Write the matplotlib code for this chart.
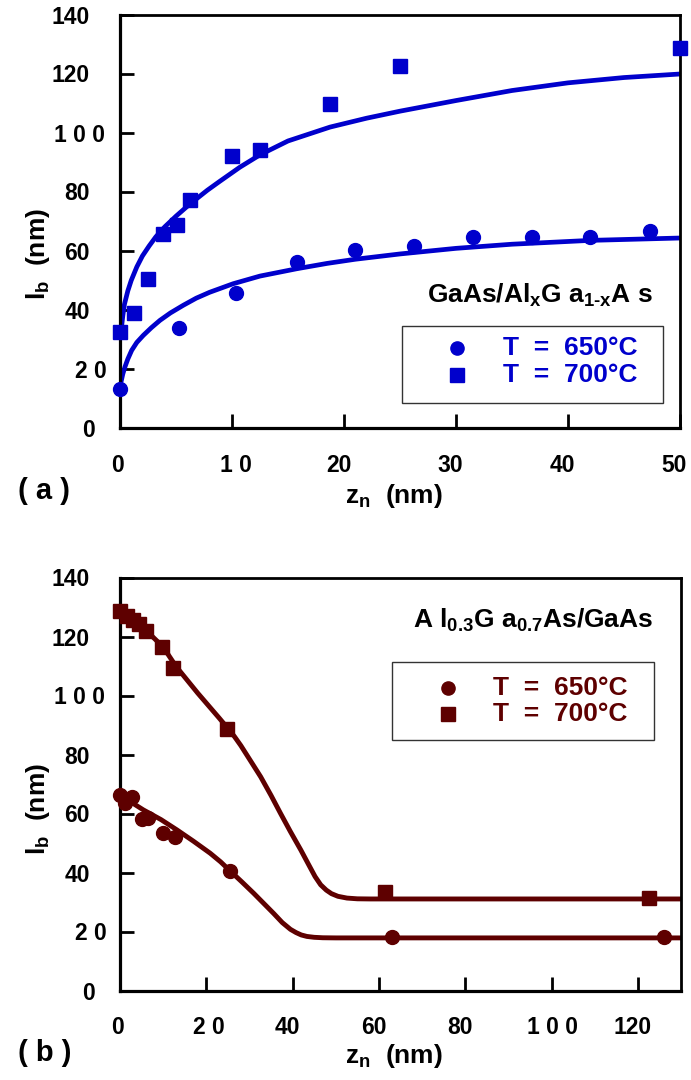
import matplotlib
matplotlib.use("Agg")
import matplotlib.pyplot as plt
from matplotlib.patches import Rectangle

plt.rcParams["font.family"] = ["Liberation Sans", "DejaVu Sans"]
plt.rcParams["font.weight"] = "bold"
plt.rcParams["mathtext.default"] = "regular"

BLUE = "#0000CC"
MAROON = "#5E0000"

# ---------------- (a) GaAs/AlxGa1-xAs ----------------
a_z_650 = [0, 5.3, 10.4, 15.8, 21.0, 26.25, 31.5, 36.8, 42.0, 47.3]
a_l_650 = [13.1, 33.8, 45.7, 56.3, 60.3, 61.7, 64.8, 64.7, 64.7, 66.8]
a_z_700 = [0, 1.25, 2.5, 3.8, 5.06, 6.25, 10.0, 12.5, 18.75, 25.0, 50.0]
a_l_700 = [32.5, 39.1, 50.4, 65.9, 68.7, 77.2, 92.2, 94.2, 109.8, 122.7, 128.8]

# fitted curves
a_fit_z_650 = [0.05, 0.25, 0.45, 0.7, 1.04, 1.5, 2.08, 2.8, 3.57, 4.5, 5.65, 6.8, 8.0,
               10.1, 12.5, 15.8, 18.5, 21.0, 25.0, 30.0, 35.0, 42.0, 50.0]
a_fit_l_650 = [14.9, 18.3, 20.8, 23.4, 26.3, 29.0, 31.4, 34.0, 36.5, 39.0, 41.6, 44.0, 46.0,
               48.9, 51.5, 54.0, 55.8, 57.2, 59.0, 60.9, 62.3, 63.6, 64.4]
a_fit_z_700 = [0.1, 0.25, 0.4, 0.7, 1.0, 1.5, 2.0, 2.6, 3.2, 4.0, 5.0, 5.9, 6.8, 7.8, 8.9, 10.7,
               12.5, 15.0, 18.75, 22.0, 25.0, 30.0, 35.0, 40.0, 45.0, 50.0]
a_fit_l_700 = [33.0, 38.0, 42.0, 46.5, 50.0, 54.6, 58.3, 61.7, 64.8, 68.2, 71.8, 74.8, 77.6, 80.6, 83.6, 88.4,
               92.6, 97.3, 102.0, 105.0, 107.4, 111.0, 114.4, 117.0, 118.8, 120.0]

# ---------------- (b) Al0.3Ga0.7As/GaAs ----------------
b_z_650 = [0, 1.16, 2.7, 5.0, 6.6, 10.0, 12.8, 25.4, 63.1, 126.0]
b_l_650 = [66.6, 63.8, 65.6, 58.2, 58.5, 53.4, 52.3, 40.8, 18.3, 18.3]
b_z_700 = [0, 1.6, 3.0, 4.4, 6.0, 9.8, 12.3, 24.8, 61.3, 122.6]
b_l_700 = [128.8, 127.1, 125.8, 124.4, 122.0, 116.6, 109.5, 88.8, 33.6, 31.5]

b_fit_z_650 = [0, 5.4, 9.5, 13.2, 17.0, 20.9, 23.3, 25.6, 28.3, 31.0, 33.3, 35.6, 37.6, 39.5,
               40.8, 42.0, 43.3, 45.0, 47.0, 50.0, 130.0]
b_fit_l_650 = [66.4, 61.4, 58.1, 54.6, 50.8, 46.7, 43.8, 40.6, 36.9, 33.1, 29.7, 26.3, 23.2, 20.9,
               19.8, 19.0, 18.5, 18.2, 18.05, 18.0, 18.0]
b_fit_z_700 = [0, 3.0, 6.0, 10.0, 13.0, 18.0, 23.0, 25.0, 26.5, 28.0, 30.0, 32.6, 35.0, 37.2, 39.5,
               41.9, 43.8, 45.2, 46.5, 47.8, 49.0, 50.5, 52.6, 55.0, 58.0, 130.0]
b_fit_l_700 = [129.5, 126.0, 122.3, 116.6, 110.0, 101.0, 92.5, 89.0, 86.3, 83.2, 78.6, 72.6, 66.3, 60.2, 54.0,
               47.8, 42.6, 38.8, 36.0, 34.2, 33.0, 32.1, 31.5, 31.25, 31.2, 31.2]

y_ticks = [0, 20, 40, 60, 80, 100, 120, 140]
y_tick_labels = ["0", "2 0", "40", "60", "80", "1 0 0", "120", "140"]
a_x_ticks = [0, 10, 20, 30, 40, 50]
a_x_tick_labels = ["0", "1 0", "20", "30", "40", "50"]
b_x_ticks = [0, 20, 40, 60, 80, 100, 120]
b_x_tick_labels = ["0", "2 0", "40", "60", "80", "1 0 0", "120"]

fig = plt.figure(figsize=(6.91, 10.8), dpi=100)
W, H = 691.0, 1080.0

ax1 = fig.add_axes([120 / W, 1 - 428 / H, 560 / W, 413 / H])
ax2 = fig.add_axes([120 / W, 1 - 991 / H, 561 / W, 413 / H])

TICK_FS = 16.5
LABEL_FS = 19

# right edge offsets (px) of y labels from the axis, x label centre shifts
y_label_dx = {"0": 25, "2 0": 13, "1 0 0": 15}
x_label_dx = {"0": -2.5, "1 0": 3.5, "2 0": 3.0, "1 0 0": 1.0}


def style_axes(ax, xlim, xticks, xlabels):
    ax.set_xlim(*xlim)
    ax.set_ylim(0, 140)
    for side in ["left", "bottom"]:
        ax.spines[side].set_linewidth(2.3)
    for side in ["top", "right"]:
        ax.spines[side].set_linewidth(2.0)
    ax.set_xticks(xticks)
    ax.set_yticks(y_ticks)
    ax.tick_params(direction="in", length=10, width=2.0, top=False, right=False,
                   labelbottom=False, labelleft=False)
    for v, lab in zip(y_ticks, y_tick_labels):
        ax.annotate(lab, xy=(0, v), xycoords=("axes fraction", "data"),
                    xytext=(-y_label_dx.get(lab, 30), -2), textcoords="offset pixels",
                    ha="right", va="center", fontsize=TICK_FS, fontweight="bold",
                    annotation_clip=False)
    for v, lab in zip(xticks, xlabels):
        ax.annotate(lab, xy=(v, 0), xycoords=("data", "axes fraction"),
                    xytext=(x_label_dx.get(lab, -5.5), -37), textcoords="offset pixels",
                    ha="center", va="center", fontsize=TICK_FS, fontweight="bold",
                    annotation_clip=False)


def legend_box(ax, color, box, mk_x, txt_x, rows, title, title_xy):
    x0, y0, x1, y1 = box
    ax.add_patch(Rectangle((x0, y0), x1 - x0, y1 - y0, transform=ax.transAxes,
                           fill=False, edgecolor="#333333", linewidth=1.0,
                           clip_on=False, zorder=4))
    ax.plot([mk_x], [rows[0]], "o", ms=9.5, color=color, transform=ax.transAxes,
            clip_on=False, zorder=5)
    ax.plot([mk_x], [rows[1]], "s", ms=10, color=color, transform=ax.transAxes,
            clip_on=False, zorder=5)
    ax.text(txt_x, rows[0], "T  =  650°C", color=color, fontsize=LABEL_FS,
            fontweight="bold", transform=ax.transAxes, ha="left", va="center")
    ax.text(txt_x, rows[1], "T  =  700°C", color=color, fontsize=LABEL_FS,
            fontweight="bold", transform=ax.transAxes, ha="left", va="center")
    ax.text(title_xy[0], title_xy[1], title, color="black", fontsize=LABEL_FS,
            fontweight="bold", transform=ax.transAxes, ha="right", va="center")


# ---- panel (a)
ax1.plot(a_fit_z_650, a_fit_l_650, color=BLUE, lw=3.4, solid_capstyle="butt",
         solid_joinstyle="round", zorder=2)
ax1.plot(a_fit_z_700, a_fit_l_700, color=BLUE, lw=3.4, solid_capstyle="butt",
         solid_joinstyle="round", zorder=2)
ax1.plot(a_z_650, a_l_650, "o", ms=10, color=BLUE, clip_on=False, zorder=3)
ax1.plot(a_z_700, a_l_700, "s", ms=10.5, color=BLUE, clip_on=False, zorder=3)
style_axes(ax1, (0, 50), a_x_ticks, a_x_tick_labels)
legend_box(ax1, BLUE, (0.5036, 0.0605, 0.9696, 0.247), 0.602, 0.684,
           (0.1937, 0.1283), "GaAs/Al$_x$G a$_{1\u2010x}$A s", (0.952, 0.322))

# ---- panel (b)
ax2.plot(b_fit_z_650, b_fit_l_650, color=MAROON, lw=3.5, solid_capstyle="butt",
         solid_joinstyle="round", zorder=2)
ax2.plot(b_fit_z_700, b_fit_l_700, color=MAROON, lw=3.5, solid_capstyle="butt",
         solid_joinstyle="round", zorder=2)
ax2.plot(b_z_650, b_l_650, "o", ms=10, color=MAROON, clip_on=False, zorder=3)
ax2.plot(b_z_700, b_l_700, "s", ms=10.5, color=MAROON, clip_on=False, zorder=3)
style_axes(ax2, (0, 130), b_x_ticks, b_x_tick_labels)
legend_box(ax2, MAROON, (0.485, 0.607, 0.952, 0.796), 0.585, 0.665,
           (0.734, 0.671), "A l$_{0.3}$G a$_{0.7}$As/GaAs", (0.950, 0.898))

# ---- axis titles and panel tags
for base_y in (503, 1063):
    fig.text(345 / W, 1 - base_y / H, "z$_n$  (nm)", fontsize=LABEL_FS,
             fontweight="bold", ha="left", va="baseline")
for start_y in (300, 855):
    fig.text(45 / W, 1 - start_y / H, "l$_b$  (nm)", fontsize=LABEL_FS,
             fontweight="bold", rotation=90, rotation_mode="anchor",
             ha="left", va="baseline")
fig.text(18 / W, 1 - 499 / H, "( a )", fontsize=21, fontweight="bold",
         ha="left", va="baseline")
fig.text(18 / W, 1 - 1061 / H, "( b )", fontsize=21, fontweight="bold",
         ha="left", va="baseline")

fig.savefig("out.png", dpi=100, facecolor="white")
